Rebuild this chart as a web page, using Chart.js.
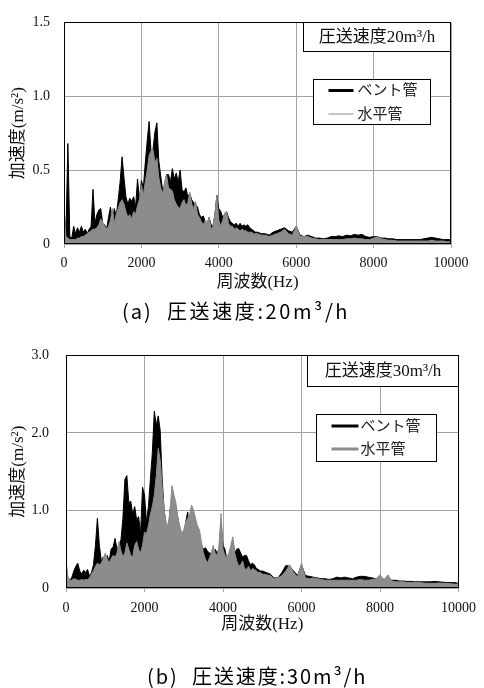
<!DOCTYPE html>
<html><head><meta charset="utf-8">
<script src="https://cdn.jsdelivr.net/npm/chart.js@4.4.0/dist/chart.umd.min.js"></script>
<style>
html,body{margin:0;padding:0;background:#fff;}
#wrap{position:relative;width:484px;height:688px;overflow:hidden;background:#fff;}
canvas{position:absolute;left:0;}
.cap{position:absolute;font-family:"Noto Sans CJK JP";font-size:20px;color:#000;white-space:pre;line-height:20px;}
.lab{position:absolute;top:0;letter-spacing:2px;}
.main{position:absolute;top:0;}
</style></head><body>
<div id="wrap">
<canvas id="c1" width="484" height="330" style="top:0"></canvas>
<canvas id="c2" width="484" height="358" style="top:330px"></canvas>
<div class="cap" style="left:0;top:301px;width:484px;height:24px">
  <span class="lab" id="capA1" style="left:122px"></span><span class="main" id="capA2" style="left:167px;letter-spacing:2.6px"></span>
</div>
<div class="cap" style="left:0;top:666px;width:484px;height:24px">
  <span class="lab" id="capB1" style="left:147px"></span><span class="main" id="capB2" style="left:192px;letter-spacing:1.9px"></span>
</div>
</div>
<script>
// ---- data ----
const freq = [
 0,50,100,150,200,250,300,350,400,450,500,550,600,650,700,750,800,850,900,950,
 1000,1050,1100,1150,1200,1250,1300,1350,1400,1450,1500,1550,1600,1650,1700,1750,1800,1850,1900,1950,
 2000,2050,2100,2150,2200,2250,2300,2350,2400,2450,2500,2550,2600,2650,2700,2750,2800,2850,2900,2950,
 3000,3050,3100,3150,3200,3250,3300,3350,3400,3450,3500,3550,3600,3650,3700,3750,3800,3850,3900,3950,
 4000,4050,4100,4150,4200,4250,4300,4350,4400,4450,4500,4550,4600,4650,4700,4750,4800,4850,4900,4950,
 5000,
 5100,5200,5300,5400,5500,5600,5700,5800,5900,6000,
 6100,6200,6300,6400,6500,6600,6700,6800,6900,7000,
 7100,7200,7300,7400,7500,7600,7700,7800,7900,8000,
 8100,8200,8300,8400,8500,8600,8700,8800,8900,9000,
 9100,9200,9300,9400,9500,9600,9700,9800,9900,10000
];
// 20 m3/h : bent pipe (black)
const vent20 = [
 0.25,0.06,0.68,0.05,0.04,0.12,0.07,0.11,0.08,0.12,0.08,0.10,0.07,0.10,0.12,0.37,0.14,0.20,0.23,0.24,
 0.14,0.13,0.10,0.18,0.25,0.16,0.24,0.19,0.30,0.42,0.59,0.45,0.32,0.27,0.31,0.29,0.32,0.25,0.44,0.30,
 0.43,0.38,0.55,0.70,0.83,0.62,0.64,0.76,0.82,0.56,0.46,0.36,0.40,0.47,0.47,0.42,0.51,0.44,0.48,0.42,
 0.50,0.37,0.35,0.38,0.32,0.34,0.30,0.28,0.27,0.25,0.20,0.18,0.19,0.15,0.14,0.18,0.13,0.12,0.20,0.33,
 0.24,0.22,0.18,0.20,0.22,0.18,0.15,0.14,0.13,0.14,0.12,0.14,0.12,0.13,0.12,0.13,0.11,0.10,0.09,0.08,
 0.08,
 0.07,0.07,0.06,0.08,0.09,0.10,0.11,0.09,0.08,0.12,
 0.06,0.05,0.06,0.05,0.04,0.04,0.035,0.04,0.05,0.05,
 0.055,0.05,0.06,0.055,0.065,0.06,0.065,0.05,0.045,0.05,
 0.05,0.04,0.04,0.035,0.035,0.03,0.03,0.03,0.03,0.03,
 0.03,0.03,0.035,0.04,0.045,0.04,0.035,0.03,0.03,0.03
];
// 20 m3/h : horizontal pipe (grey)
const horiz20 = [
 0.24,0.05,0.04,0.03,0.03,0.03,0.03,0.04,0.04,0.05,0.05,0.06,0.07,0.08,0.09,0.10,0.10,0.11,0.13,0.17,
 0.15,0.12,0.10,0.12,0.16,0.24,0.14,0.20,0.24,0.28,0.30,0.27,0.22,0.18,0.20,0.17,0.22,0.20,0.26,0.30,
 0.40,0.33,0.42,0.50,0.60,0.63,0.64,0.55,0.58,0.45,0.38,0.34,0.42,0.47,0.38,0.37,0.36,0.30,0.27,0.25,
 0.24,0.28,0.30,0.26,0.28,0.35,0.27,0.24,0.29,0.20,0.18,0.15,0.13,0.16,0.14,0.18,0.10,0.12,0.20,0.33,
 0.16,0.12,0.16,0.21,0.22,0.14,0.12,0.12,0.10,0.11,0.10,0.09,0.10,0.09,0.09,0.08,0.08,0.08,0.07,0.07,
 0.07,
 0.06,0.06,0.05,0.06,0.07,0.08,0.10,0.07,0.06,0.12,
 0.05,0.05,0.05,0.04,0.035,0.03,0.03,0.03,0.03,0.03,
 0.03,0.03,0.035,0.035,0.04,0.035,0.035,0.03,0.03,0.04,
 0.05,0.035,0.03,0.025,0.025,0.02,0.02,0.02,0.02,0.02,
 0.02,0.02,0.02,0.02,0.025,0.02,0.02,0.02,0.015,0.015
];
// 30 m3/h : bent pipe (black)
const vent30 = [
 0.30,0.12,0.10,0.14,0.22,0.28,0.32,0.22,0.18,0.23,0.20,0.24,0.15,0.20,0.30,0.55,0.90,0.55,0.35,0.40,
 0.38,0.42,0.35,0.50,0.53,0.64,0.50,0.55,0.62,0.90,1.40,1.45,1.10,1.12,0.95,1.05,0.88,0.92,0.70,1.30,
 1.20,0.85,1.05,1.40,1.75,2.28,2.10,2.22,2.03,1.41,1.00,0.80,0.65,1.00,1.09,1.10,1.05,0.90,0.75,0.70,
 0.65,0.85,0.98,0.75,0.85,0.95,0.80,0.70,0.65,0.55,0.50,0.52,0.48,0.45,0.45,0.40,0.50,0.45,0.50,0.85,
 0.55,0.50,0.36,0.40,0.50,0.62,0.45,0.50,0.51,0.45,0.40,0.42,0.42,0.35,0.30,0.32,0.30,0.25,0.24,0.22,
 0.22,
 0.20,0.18,0.13,0.13,0.20,0.29,0.28,0.22,0.16,0.30,
 0.16,0.15,0.14,0.13,0.12,0.12,0.11,0.12,0.14,0.13,
 0.14,0.13,0.12,0.14,0.15,0.15,0.14,0.13,0.12,0.14,
 0.11,0.13,0.10,0.10,0.09,0.09,0.085,0.085,0.08,0.08,
 0.08,0.08,0.08,0.085,0.08,0.075,0.07,0.07,0.07,0.06
];
// 30 m3/h : horizontal pipe (grey)
const horiz30 = [
 0.36,0.14,0.10,0.10,0.12,0.11,0.10,0.10,0.11,0.10,0.11,0.11,0.13,0.18,0.22,0.28,0.32,0.30,0.32,0.38,
 0.45,0.38,0.32,0.38,0.42,0.40,0.45,0.60,0.48,0.40,0.45,0.58,0.50,0.42,0.40,0.55,0.60,0.50,0.45,0.55,
 0.72,0.70,0.80,0.95,1.05,1.20,1.45,1.80,1.65,1.30,1.00,0.85,0.80,1.00,1.32,1.20,1.10,0.90,0.80,0.70,
 0.75,0.85,0.90,0.95,1.07,1.00,0.90,0.80,0.75,0.60,0.45,0.38,0.32,0.38,0.45,0.55,0.45,0.42,0.55,0.96,
 0.50,0.42,0.40,0.45,0.55,0.66,0.45,0.35,0.28,0.30,0.35,0.25,0.24,0.28,0.22,0.25,0.24,0.22,0.20,0.20,
 0.18,
 0.17,0.16,0.12,0.13,0.16,0.22,0.30,0.20,0.14,0.32,
 0.13,0.12,0.13,0.12,0.11,0.10,0.10,0.10,0.10,0.10,
 0.10,0.10,0.10,0.10,0.11,0.10,0.10,0.11,0.12,0.17,
 0.10,0.17,0.09,0.08,0.08,0.08,0.07,0.07,0.07,0.07,
 0.065,0.06,0.06,0.06,0.065,0.06,0.06,0.055,0.05,0.05
];
const xTickValues = [0,2000,4000,6000,8000,10000];
const yTickValues20 = [0,0.5,1.0,1.5];
const yTickLabels20 = ['0','0.5','1.0','1.5'];
const yTickValues30 = [0,1.0,2.0,3.0];
const yTickLabels30 = ['0','1.0','2.0','3.0'];
const seriesLabels = ['ベント管','水平管'];
const boxTitles = ['圧送速度20m³/h','圧送速度30m³/h'];
const captionLabels = ['(a)','(b)'];
const captionTexts = ['圧送速度:20m³/h','圧送速度:30m³/h'];
const xTitle = '周波数(Hz)';
const yTitle = '加速度(m/s²)';

document.getElementById('capA1').textContent = captionLabels[0];
document.getElementById('capA2').textContent = captionTexts[0];
document.getElementById('capB1').textContent = captionLabels[1];
document.getElementById('capB2').textContent = captionTexts[1];

const FONT = '"Liberation Serif", "Noto Sans CJK JP", serif';
const GRID = '#a3a3a3';
const GREY = '#8c8c8c';

const boxPlugin = {
  id: 'boxes',
  afterDraw(chart, args, o) {
    const ctx = chart.ctx, a = chart.chartArea;
    ctx.save();
    ctx.strokeStyle = '#000'; ctx.lineWidth = 1;
    const L = Math.round(a.left) + 0.5, R = Math.round(a.right) - 0.5;
    const T = Math.round(a.top) + 0.5, B = Math.round(a.bottom) - 0.5;
    ctx.strokeRect(L, T, R - L, B - T);
    // title box
    const tx = R - o.tw, ty = T;
    ctx.fillStyle = '#fff';
    ctx.fillRect(tx, ty, o.tw, o.th);
    ctx.strokeRect(tx, ty, o.tw, o.th);
    ctx.fillStyle = '#111';
    ctx.font = o.tfont + 'px ' + FONT;
    ctx.textAlign = 'center'; ctx.textBaseline = 'middle';
    ctx.fillText(o.title, tx + o.tw / 2, ty + o.th / 2 + 1);
    // legend box
    const lx = Math.round(R - o.lr - o.lw) + 0.5, ly = Math.round(T + o.lt);
    ctx.fillStyle = '#fff';
    ctx.fillRect(lx, ly + 0.5, o.lw, o.lh);
    ctx.strokeRect(lx, ly + 0.5, o.lw, o.lh);
    ctx.font = o.lfont + 'px ' + FONT;
    ctx.textAlign = 'left';
    chart.data.datasets.forEach((ds, i) => {
      const yy = ly + o.rows[i];
      ctx.strokeStyle = ds.borderColor;
      ctx.lineWidth = o.lineW[i];
      ctx.beginPath();
      ctx.moveTo(lx + o.l0, yy); ctx.lineTo(lx + o.l1, yy);
      ctx.stroke();
      ctx.fillStyle = '#222';
      ctx.fillText(ds.label, lx + o.tx, yy + 1);
    });
    ctx.restore();
  }
};

function pts(vals) { return freq.map((f, i) => ({ x: f, y: vals[i] })); }

function makeChart(id, c) {
  return new Chart(document.getElementById(id), {
    type: 'line',
    data: {
      datasets: [
        { label: seriesLabels[0], data: pts(c.black), borderColor: '#000', backgroundColor: '#000',
          fill: 'origin', order: 2, borderWidth: 1, pointRadius: 0, tension: 0 },
        { label: seriesLabels[1], data: pts(c.grey), borderColor: GREY, backgroundColor: GREY,
          fill: 'origin', order: 1, borderWidth: 1, pointRadius: 0, tension: 0 }
      ]
    },
    options: {
      responsive: false, animation: false, devicePixelRatio: 1,
      layout: { padding: { left: 0, top: c.area.top, right: 484 - c.area.right, bottom: c.h - c.area.bottom - c.xh } },
      plugins: {
        legend: { display: false }, tooltip: { enabled: false },
        boxes: c.boxes
      },
      scales: {
        x: {
          type: 'linear', min: 0, max: 10000,
          afterBuildTicks(s) { s.ticks = xTickValues.map(v => ({ value: v })); },
          afterFit(s) { s.height = c.xh; },
          ticks: { callback: v => String(v), font: { family: FONT, size: 14 }, color: '#111',
                   padding: c.xPad, maxRotation: 0, autoSkip: false },
          grid: { color: GRID, lineWidth: 1, drawTicks: true, tickLength: 4 },
          border: { display: false },
          title: { display: true, text: xTitle, font: { family: FONT, size: 17 }, color: '#111',
                   padding: { top: 0, bottom: 2 } }
        },
        y: {
          type: 'linear', min: 0, max: c.ymax,
          afterBuildTicks(s) { s.ticks = c.yVals.map(v => ({ value: v })); },
          afterFit(s) { s.width = c.area.left; },
          ticks: { callback: (v, i) => c.yLabels[i], font: { family: FONT, size: 14 }, color: '#111',
                   padding: c.yPad },
          grid: { color: GRID, lineWidth: 1, drawTicks: false },
          border: { display: false },
          title: { display: true, text: yTitle, font: { family: FONT, size: 17 }, color: '#111',
                   padding: { top: 8, bottom: 0 } }
        }
      }
    },
    plugins: [boxPlugin]
  });
}

makeChart('c1', {
  black: vent20, grey: horiz20, h: 330, xh: 51, xPad: 7, yPad: 14,
  area: { left: 64, right: 451, top: 16, bottom: 244 },
  ymax: 1.5, yVals: yTickValues20, yLabels: yTickLabels20,
  boxes: { title: boxTitles[0], tw: 147, th: 29, tfont: 17,
           lr: 21, lt: 56, lw: 117, lh: 45, lfont: 15, rows: [11.5, 35], l0: 15, l1: 40, tx: 44, lineW: [3, 1] }
});
makeChart('c2', {
  black: vent30, grey: horiz30, h: 358, xh: 49, xPad: 8, yPad: 17,
  area: { left: 66, right: 463, top: 24, bottom: 258 },
  ymax: 3.0, yVals: yTickValues30, yLabels: yTickLabels30,
  boxes: { title: boxTitles[1], tw: 151, th: 31, tfont: 17,
           lr: 23, lt: 58, lw: 120, lh: 47, lfont: 15, rows: [12, 35], l0: 15, l1: 42, tx: 44, lineW: [3, 3] }
});
</script>
</body></html>
